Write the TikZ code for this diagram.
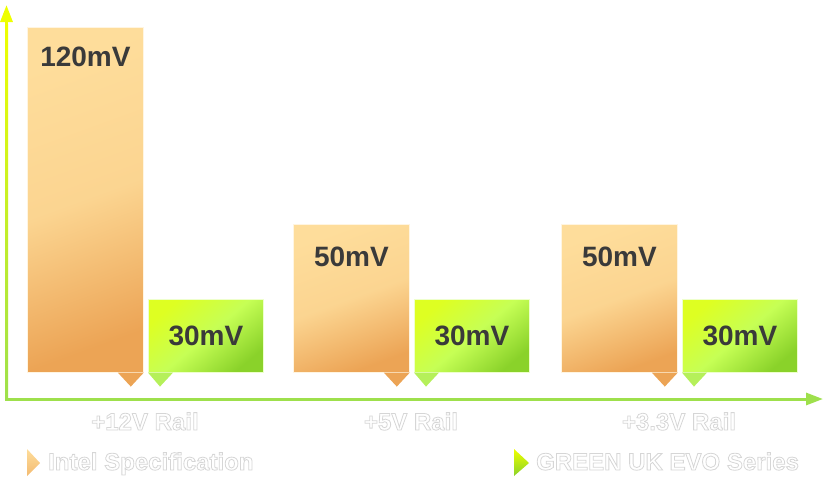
\documentclass[tikz,border=0pt]{standalone}
\usepackage{fontspec}
\setmainfont{Liberation Sans}
\usetikzlibrary{positioning,arrows.meta}

\definecolor{specLight}{HTML}{FEDD9B}
\definecolor{specDark}{HTML}{ECA455}
\definecolor{evoYellow}{HTML}{EEFF00}
\definecolor{evoLight}{HTML}{C6FF55}
\definecolor{evoDark}{HTML}{8AD22A}
\definecolor{evoPointer}{HTML}{B5F05A}
\definecolor{axisYellow}{HTML}{EEFF00}
\definecolor{axisGreen}{HTML}{9EE04C}
\definecolor{valueGray}{HTML}{3A3A3A}

\newcommand{\valuefont}{\fontsize{28}{28}\selectfont\bfseries}
% white letters with a thin grey outline
\newcommand{\hollow}[1]{\special{pdf:literal direct 2 Tr 0.8 w 0.84 G}#1\special{pdf:literal direct 0 Tr}}

\tikzset{
    axisline/.style={line width=3pt, -{Triangle[length=17pt,width=12pt]}},
    specbar/.style={anchor=south west, minimum width=116pt, inner sep=0pt, draw=white!70!specLight, line width=0.8pt,
        top color=specLight, bottom color=specDark, middle color=specLight!85!specDark, shading angle=20},
    evobar/.style={anchor=south west, minimum width=115pt, minimum height=73pt, inner sep=0pt, draw=white!70!evoLight, line width=0.8pt,
        top color=evoYellow!60!evoLight, bottom color=evoDark, middle color=evoLight, shading angle=40, font=\valuefont, text=valueGray},
    valuetext/.style={inner sep=0pt, font=\valuefont, text=valueGray},
    railtext/.style={inner sep=0pt, font=\fontsize{24}{24}\selectfont\bfseries, text=white},
}

\begin{document}
\begin{tikzpicture}[x=1pt, y=1pt]
    \useasboundingbox (0,0) rectangle (825,-477);

    % Axes
    \coordinate (origin) at (6.5,-399);
    \coordinate (ytip) at (6.5,-5);
    \coordinate (yhead) at (6.5,-24);
    \coordinate (xtip) at (823,-399);
    \draw[axisline, axisYellow] (origin) -- (ytip);
    \shade[top color=axisYellow, bottom color=axisGreen] ([xshift=-1.5pt,yshift=-1.5pt]origin) rectangle ([xshift=1.5pt]yhead);
    \draw[axisline, axisGreen] ([xshift=-1.5pt]origin) -- (xtip);

    % Bars of each rail
    \foreach \x/\h/\d/\v/\rail [count=\i] in {27/345/20/120mV/+12V Rail, 293/148/23/50mV/+5V Rail, 561/148/23/50mV/+3.3V Rail} {
        \pgfmathsetmacro{\xe}{\x + 121}
        \pgfmathsetmacro{\xm}{\x + 118}
        % Intel specification bar and its pointer
        \node[specbar, minimum height=\h pt] (spec\i) at (\x,-373) {};
        \fill[specDark] ([xshift=-26pt,yshift=0.4pt]spec\i.south east) -- ++(13,-14) -- ++(13,14) -- cycle;
        \node[valuetext, below=\d pt of spec\i.north] (specval\i) {\v};
        % GREEN UK EVO bar and its pointer
        \node[evobar] (evo\i) at (\xe,-373) {30mV};
        \fill[evoPointer] ([yshift=0.4pt]evo\i.south west) -- ++(12,-14) -- ++(13,14) -- cycle;
        % Rail name
        \node[railtext, anchor=base] (rail\i) at (\xm,-430) {\hollow{\rail}};
    }

    % Legend
    \shade[top color=specLight, bottom color=specDark!60!specLight] (27,-449) -- (40,-463) -- (27,-476) -- cycle;
    \node[railtext, anchor=base west] (speclegend) at (48,-470) {\hollow{Intel Specification}};
    \shade[top color=evoYellow, bottom color=evoDark] (514,-449) -- (529,-463) -- (514,-476) -- cycle;
    \node[railtext, anchor=base west] (evolegend) at (536,-470) {\hollow{GREEN UK EVO Series}};
\end{tikzpicture}
\end{document}
